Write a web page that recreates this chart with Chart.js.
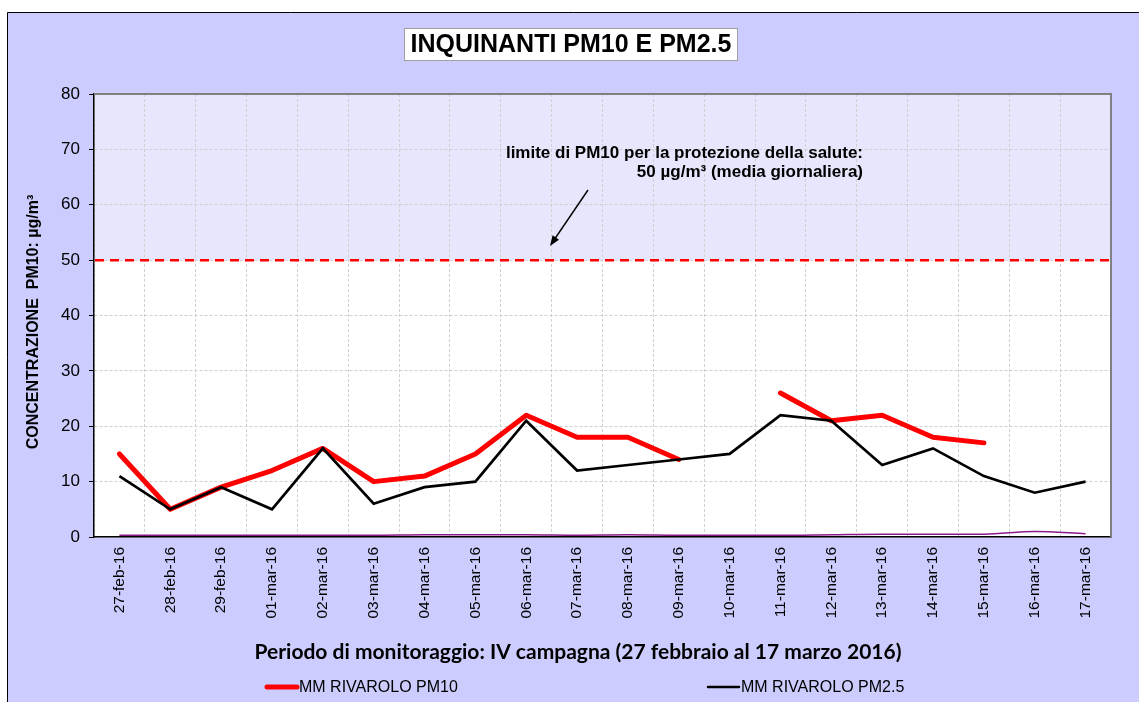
<!DOCTYPE html>
<html>
<head>
<meta charset="utf-8">
<script src="https://cdn.jsdelivr.net/npm/chart.js@4"></script>
<style>
  html, body { margin: 0; padding: 0; background: #ffffff; }
  #wrap { width: 1139px; height: 702px; position: relative; }
</style>
</head>
<body>
<div id="wrap"><canvas id="c" width="1139" height="702"></canvas></div>
<script>
// ---- data ----
const categories = ['27-feb-16','28-feb-16','29-feb-16','01-mar-16','02-mar-16','03-mar-16','04-mar-16',
  '05-mar-16','06-mar-16','07-mar-16','08-mar-16','09-mar-16','10-mar-16','11-mar-16','12-mar-16',
  '13-mar-16','14-mar-16','15-mar-16','16-mar-16','17-mar-16'];
const pm10Values = [15, 5, 9, 12, 16, 10, 11, 15, 22, 18, 18, 14, null, 26, 21, 22, 18, 17, null, null];
const pm25Values = [11, 5, 9, 5, 16, 6, 9, 10, 21, 12, 13, 14, 15, 22, 21, 13, 16, 11, 8, 10];
const lowSeriesValues = [0.3, 0.3, 0.3, 0.3, 0.3, 0.3, 0.4, 0.4, 0.4, 0.3, 0.4, 0.3, 0.3, 0.3, 0.4, 0.5, 0.5, 0.5, 1.0, 0.6];
const yMin = 0, yMax = 80, yStep = 10;
const limitValue = 50;
const seriesNames = ['MM RIVAROLO PM10', 'MM RIVAROLO PM2.5'];
const titleText = 'INQUINANTI PM10 E PM2.5';
const xTitleText = 'Periodo di monitoraggio: IV campagna (27 febbraio al 17 marzo 2016)';
const yTitleText = 'CONCENTRAZIONE  PM10: µg/m³';
const noteLines = ['limite di PM10 per la protezione della salute:', '50 µg/m³ (media giornaliera)'];

const decorPlugin = {
  id: 'decor',
  beforeDraw(chart) {
    const ctx = chart.ctx, ca = chart.chartArea, ys = chart.scales.y;
    ctx.save();
    ctx.fillStyle = '#ffffff';
    ctx.fillRect(0, 0, chart.width, chart.height);
    ctx.fillStyle = '#ccccff';
    ctx.fillRect(7, 12, chart.width - 7, chart.height - 12);
    ctx.strokeStyle = '#000000';
    ctx.lineWidth = 1;
    ctx.beginPath();
    ctx.moveTo(7.5, chart.height); ctx.lineTo(7.5, 12.5); ctx.lineTo(chart.width, 12.5);
    ctx.stroke();
    const y50 = ys.getPixelForValue(limitValue);
    ctx.fillStyle = '#e6e6fc';
    ctx.fillRect(ca.left, ca.top, ca.right - ca.left, y50 - ca.top);
    ctx.fillStyle = '#ffffff';
    ctx.fillRect(ca.left, y50, ca.right - ca.left, ca.bottom - y50);
    ctx.restore();
  },
  beforeDatasetsDraw(chart) {
    const ctx = chart.ctx, ca = chart.chartArea, ys = chart.scales.y;
    ctx.save();
    ctx.strokeStyle = '#808080';
    ctx.lineWidth = 2;
    ctx.beginPath();
    ctx.moveTo(ca.left, ca.top); ctx.lineTo(ca.right, ca.top); ctx.lineTo(ca.right, ca.bottom);
    ctx.stroke();
    const y50 = ys.getPixelForValue(limitValue);
    ctx.strokeStyle = '#ff0000';
    ctx.lineWidth = 2.5;
    ctx.setLineDash([9, 6]);
    ctx.beginPath();
    ctx.moveTo(ca.left + 1, y50); ctx.lineTo(ca.right, y50);
    ctx.stroke();
    ctx.restore();
  },
  afterDraw(chart) {
    const ctx = chart.ctx;
    ctx.save();
    // title box
    ctx.fillStyle = '#ffffff';
    ctx.fillRect(404, 28, 334, 33);
    ctx.strokeStyle = '#a0a0a0';
    ctx.lineWidth = 1;
    ctx.strokeRect(404.5, 28.5, 333, 32);
    ctx.fillStyle = '#000000';
    ctx.font = 'bold 25px "Liberation Sans", Arial, sans-serif';
    ctx.textAlign = 'center';
    ctx.textBaseline = 'middle';
    ctx.fillText(titleText, 571, 45);
    // note
    ctx.font = 'bold 17px "Liberation Sans", Arial, sans-serif';
    ctx.textAlign = 'right';
    ctx.fillText(noteLines[0], 863, 153);
    ctx.fillText(noteLines[1], 863, 172);
    // arrow
    const x0 = 588, y0 = 190, x1 = 550, y1 = 246;
    ctx.strokeStyle = '#000000';
    ctx.lineWidth = 1.4;
    ctx.beginPath(); ctx.moveTo(x0, y0); ctx.lineTo(x1 + 3, y1 - 4.5); ctx.stroke();
    const ang = Math.atan2(y1 - y0, x1 - x0);
    const hl = 11, hw = 0.36;
    ctx.beginPath();
    ctx.moveTo(x1, y1);
    ctx.lineTo(x1 - hl * Math.cos(ang - hw), y1 - hl * Math.sin(ang - hw));
    ctx.lineTo(x1 - hl * Math.cos(ang + hw), y1 - hl * Math.sin(ang + hw));
    ctx.closePath();
    ctx.fillStyle = '#000000';
    ctx.fill();
    // y title
    ctx.save();
    ctx.translate(34, 322);
    ctx.rotate(-Math.PI / 2);
    ctx.font = 'bold 16px "Liberation Sans", Arial, sans-serif';
    ctx.textAlign = 'center';
    ctx.textBaseline = 'middle';
    ctx.fillText(yTitleText, 0, 0);
    ctx.restore();
    // x title
    ctx.font = 'bold 21px Lato, "Open Sans", sans-serif';
    ctx.textAlign = 'center';
    ctx.textBaseline = 'middle';
    ctx.fillText(xTitleText, 578, 652);
    // legend
    ctx.textAlign = 'left';
    ctx.font = '16px "Liberation Sans", Arial, sans-serif';
    ctx.lineCap = 'round';
    ctx.strokeStyle = '#ff0000'; ctx.lineWidth = 5;
    ctx.beginPath(); ctx.moveTo(267, 687); ctx.lineTo(297, 687); ctx.stroke();
    ctx.fillStyle = '#000000';
    ctx.fillText(seriesNames[0], 299, 688);
    ctx.strokeStyle = '#000000'; ctx.lineWidth = 2.5;
    ctx.beginPath(); ctx.moveTo(708, 687); ctx.lineTo(739, 687); ctx.stroke();
    ctx.fillText(seriesNames[1], 741, 688);
    ctx.restore();
  }
};

new Chart(document.getElementById('c'), {
  type: 'line',
  data: {
    labels: categories,
    datasets: [
      { label: seriesNames[0], data: pm10Values, borderColor: '#ff0000', borderWidth: 5,
        pointRadius: 0, tension: 0, spanGaps: false, order: 1, borderCapStyle: 'round', borderJoinStyle: 'round' },
      { label: seriesNames[1], data: pm25Values, borderColor: '#000000', borderWidth: 2.7,
        pointRadius: 0, tension: 0, order: 0, borderJoinStyle: 'miter' },
      { label: '', data: lowSeriesValues, borderColor: '#8b1a8b', borderWidth: 1.5,
        pointRadius: 0, tension: 0.4, cubicInterpolationMode: 'monotone', order: 2 }
    ]
  },
  options: {
    responsive: false,
    animation: false,
    devicePixelRatio: 1,
    layout: { padding: { top: 94, right: 28, left: 0, bottom: 0 } },
    plugins: { legend: { display: false }, title: { display: false }, tooltip: { enabled: false } },
    scales: {
      x: {
        type: 'category',
        offset: true,
        grid: { offset: true, color: '#d0d0d0', lineWidth: 1, drawTicks: false },
        border: { display: true, color: '#000000', width: 1.5, dash: [3, 2] },
        ticks: { color: '#000000', font: { family: '"Liberation Sans", Arial, sans-serif', size: 15.5 },
          minRotation: 90, maxRotation: 90, padding: 10, autoSkip: false },
        afterFit(scale) { scale.height = 165; }
      },
      y: {
        min: yMin, max: yMax,
        grid: { color: '#d0d0d0', lineWidth: 1, tickLength: 5, tickColor: '#000000', tickBorderDash: [] },
        border: { display: true, color: '#000000', width: 1.5, dash: [3, 2] },
        ticks: { stepSize: yStep, color: '#000000', padding: 9,
          font: { family: '"Liberation Sans", Arial, sans-serif', size: 17 } },
        afterFit(scale) { scale.width = 94; }
      }
    }
  },
  plugins: [decorPlugin]
});
</script>
</body>
</html>
